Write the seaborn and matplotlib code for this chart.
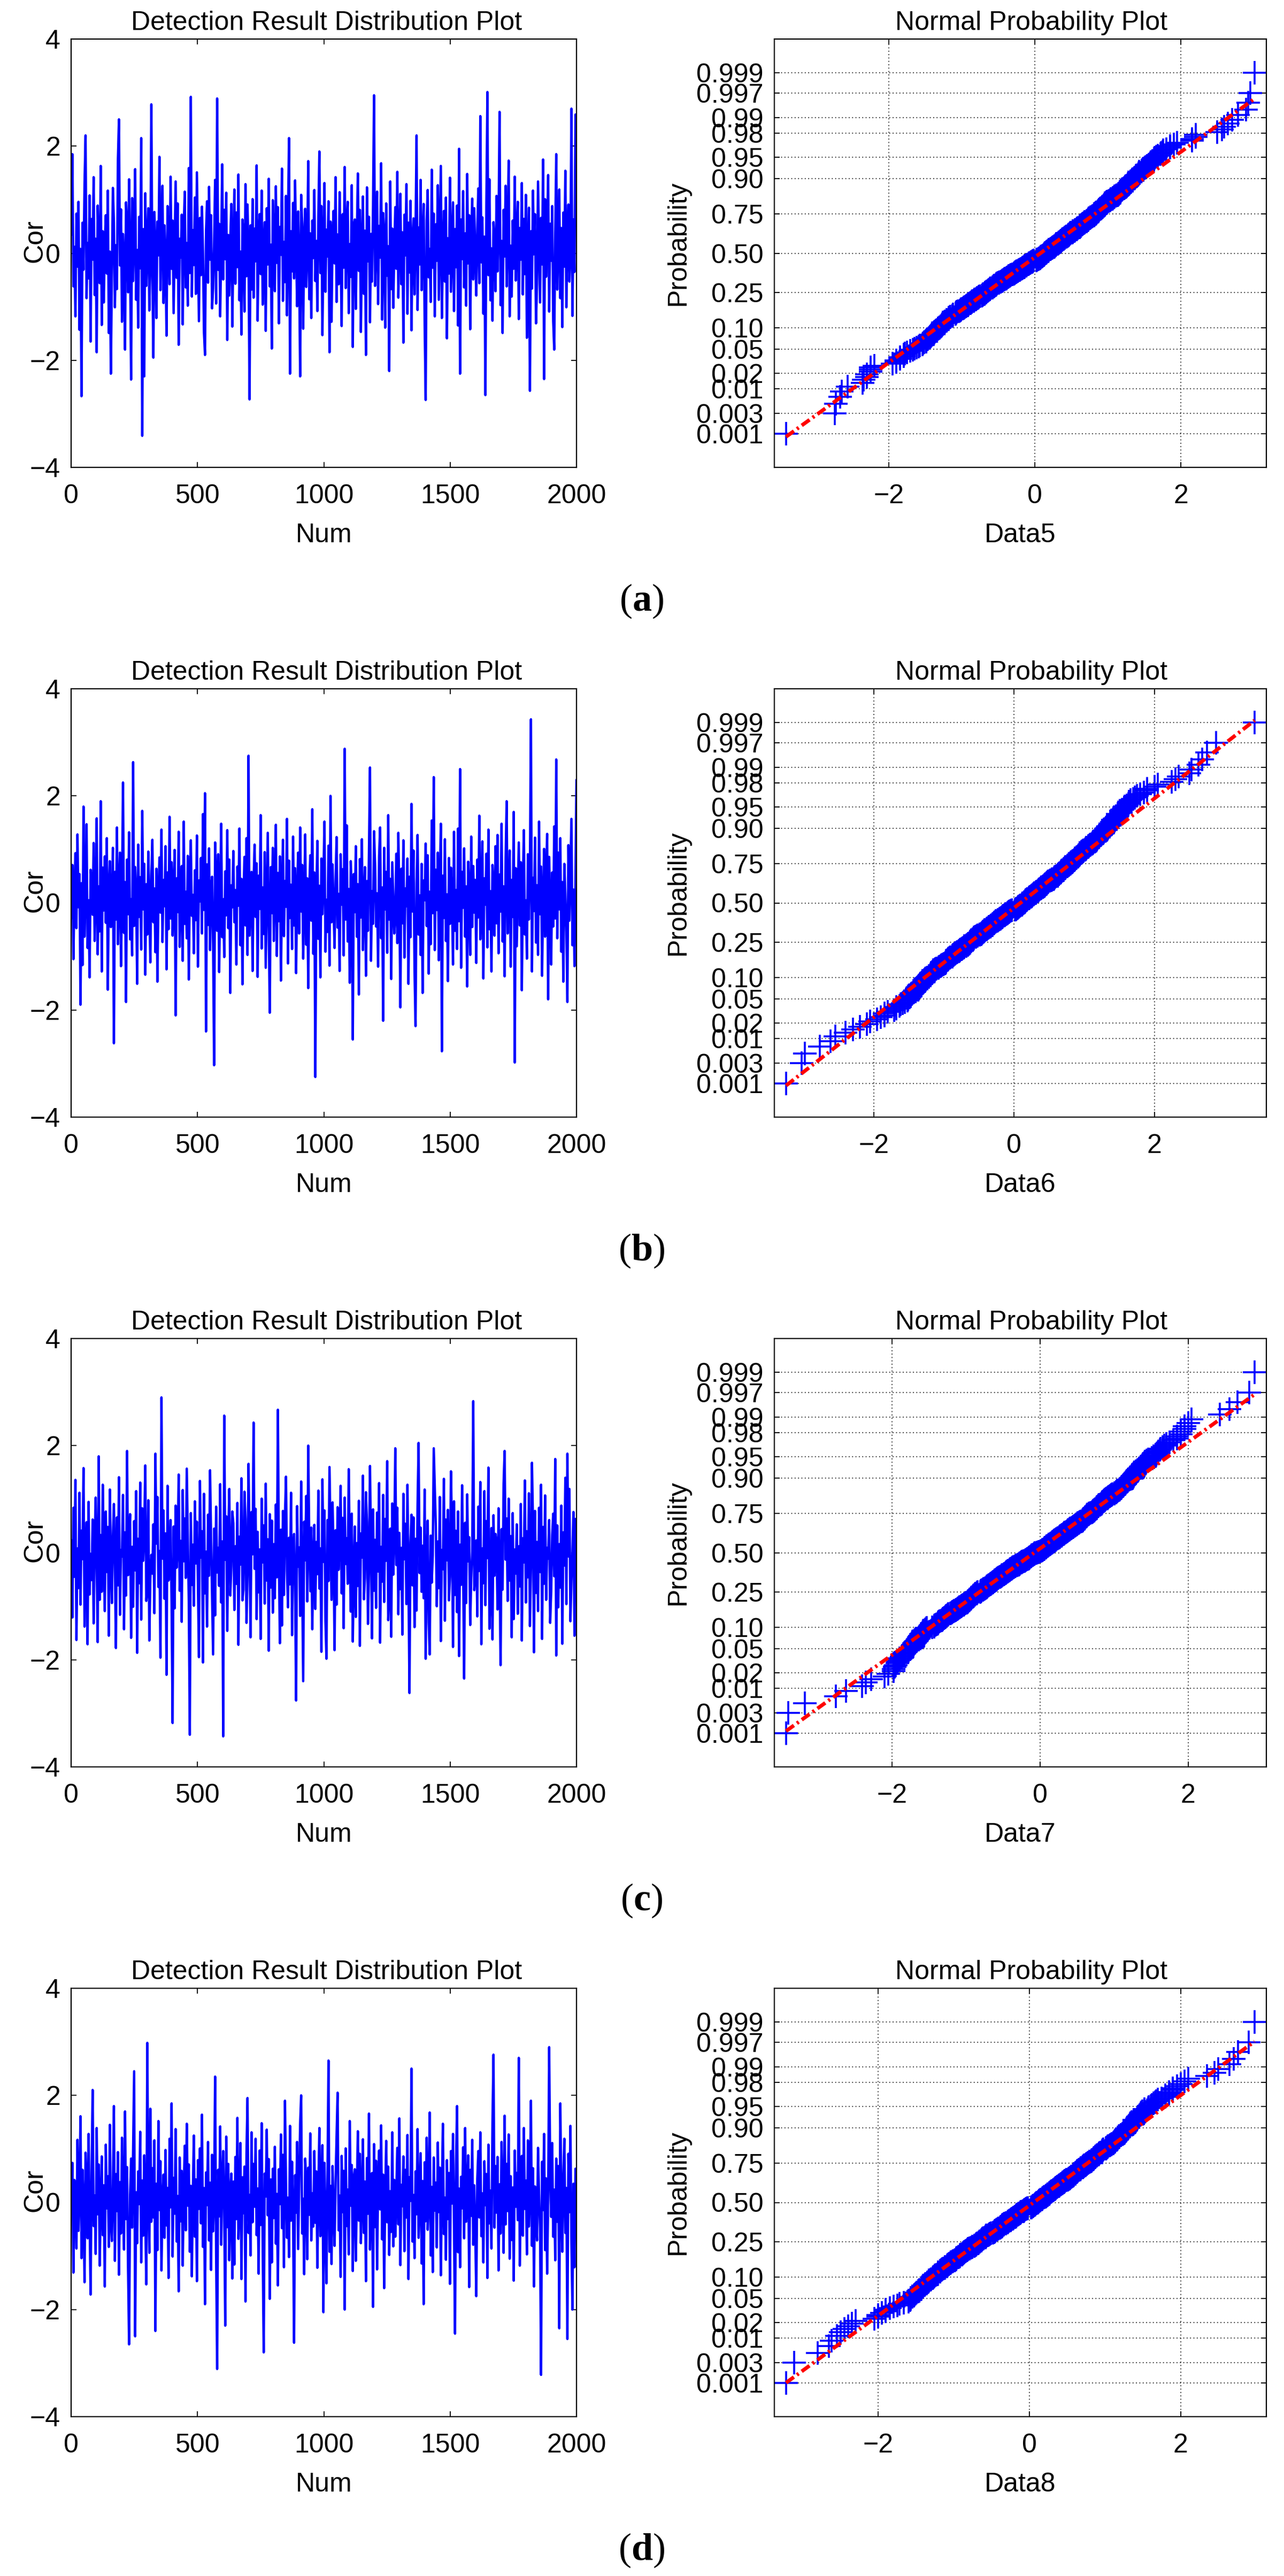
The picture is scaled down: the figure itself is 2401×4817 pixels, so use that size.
import numpy as np
import pandas as pd
import matplotlib
matplotlib.use("Agg")
import matplotlib.pyplot as plt
import seaborn as sns
from statistics import NormalDist

# Cor values of the four detection runs (Data5..Data8), read off the
# traces at every 4th sample of the 2000, in hundredths.
cor_a = [
    35, 185, -62, 12, -118, 74, -25, 96, -143, 8, -267, 57, -31, 131, 220, -84, 19, -47, 108, -165,
    64, -12, 142, -78, 27, -185, 89, -5, -56, 163, -134, 41, -92, 18, 71, -38, 117, -149, 3, -225,
    -44, 122, 58, -101, 15, -67, 176, 250, -23, 82, -128, 36, -9, -180, 95, 47, -73, 138, -16, -236,
    103, -52, 29, 157, -87, 6, -139, 68, -28, 215, -341, 45, -230, 112, -61, 21, 84, -107, -14, 278,
    -36, -195, 77, 13, -121, 59, -4, 180, -69, 33, 126, -93, 52, -17, -154, 88, 24, -58, 143, -29,
    61, -112, 9, 134, -46, 93, -171, 27, -8, 72, -133, 48, 115, -64, 19, -98, 159, -37, 292, -81,
    43, -22, 104, -76, 151, 11, -127, 66, -41, 87, 2, -148, -190, 39, 97, -55, 124, -12, 71, -103,
    -66, 18, 137, -94, 289, -31, 55, -118, 8, 166, -49, 81, -11, 113, -162, 34, -79, 26, 92, -137,
    14, 119, -57, 76, -26, 147, -88, 3, -152, 63, 38, -109, 129, -43, 91, -7, -273, 52, -68, 101,
    -83, 46, -15, 164, -126, 29, 73, -39, 117, -96, 7, 58, -145, 84, -21, 139, -62, 16, -178, 99,
    32, -71, 125, -18, 86, -131, 49, -3, 158, -89, 21, -54, 107, -116, 67, 215, -225, 41, -34, 94,
    -47, 136, 12, -99, 78, -24, -230, 109, 55, -141, 28, 83, -63, 5, 172, -86, 37, -121, 61, -9,
    118, -52, 23, -108, 69, 190, -37, 88, -153, 14, 131, -72, 44, -6, 97, -185, 59, -128, 26, 79,
    -19, 142, -91, 35, -58, 114, 4, -136, 73, -27, 161, -65, 48, 96, -112, 17, -44, 127, -175, 52,
    63, -104, 27, 149, -33, 81, -147, 10, 106, -76, 42, -190, 123, -15, 68, -129, 36, -53, 87, 295,
    -61, 22, 115, -95, 51, -8, 168, -124, 75, 31, -139, 93, -42, 13, -220, 134, -67, 46, -102, 7,
    86, -29, 152, -83, 19, 111, -58, 39, -167, 72, -4, 129, -113, 57, -36, 98, -144, 24, 65, -77,
    33, 220, -106, 48, -21, 137, -69, 15, 92, -132, -274, 61, 118, -45, 8, -91, 156, -27, 74, -118,
    54, -14, 127, -87, 36, 163, -121, 2, 79, -53, 104, -159, 28, -38, 141, -72, 11, 95, -108, 45,
    -26, 89, -135, 195, -225, 63, -11, 116, -64, 37, -98, 148, -19, 71, -142, 25, 102, -49, 84, -3,
    -79, 43, 121, -56, 256, -17, 67, -113, 31, -265, 94, 301, -41, 138, -88, 9, -126, 58, 16, -71,
    107, -34, 52, 264, -97, 23, -149, 81, -6, 126, -62, 39, 173, -118, 14, -81, 61, -29, 143, -51,
    28, 96, -123, 47, -12, 131, -77, 64, -39, 109, -158, 19, 85, -257, 41, -66, 117, -2, 73, -131,
    -57, 134, 18, -92, 66, -21, 175, -235, 101, -44, 29, 146, -109, 55, -14, 88, -127, -180, 37, 185,
    -68, 12, 119, -84, 47, -138, 76, -25, 154, -101, 34, 91, -53, 6, 270, -117, 63, -35, 259, 82,
]
cor_b = [
    -28, 71, -105, 16, 93, -47, 128, -8, 54, -190, 37, -116, 180, -63, 22, 147, -84, 5, -139, 62,
    44, -22, 112, -71, 9, 158, -96, 31, -53, 190, -128, 66, -14, 87, -37, 121, -162, 19, 78, -45,
    -9, 103, -262, 58, -31, 141, -77, 26, 94, -118, 12, 225, -56, 39, -185, 81, -21, 132, -68, 7,
    -98, 263, -43, 67, 14, -151, 109, -26, 48, -87, 172, -12, 73, -134, 35, -59, 96, 1, -111, 52,
    118, -36, 27, -92, 64, -147, 11, 85, -18, 137, -73, 43, -6, 106, -124, 57, -49, 161, -29, 76,
    -61, 29, 99, -210, 46, -17, 133, -82, 8, 69, -108, 152, -39, 21, -66, 88, -143, 34, 117, -24,
    15, -94, 61, -32, 126, -119, 42, 3, 84, -57, 166, -13, 205, -240, 72, -41, 102, -88, 27, 49,
    -76, -303, 113, 36, -52, 91, -129, 18, 148, -64, 7, -101, 59, -23, 136, -47, 81, -168, 33, -8,
    97, -36, 24, -115, 68, -5, 139, -79, 45, -152, 11, 86, -42, 121, -97, 275, -61, 17, 58, -127,
    38, 109, -26, 74, -138, 51, -11, 164, -85, 29, -58, 95, -121, 2, 131, -46, -205, 67, -19, 103,
    -71, 23, 146, -99, 56, -34, 87, -145, 12, 118, -62, 41, -7, 157, -113, 79, -28, 34, -86, 124,
    -42, 65, -131, 19, 94, -57, 141, -16, 71, -104, 3, 128, -78, 46, -159, 25, 89, -33, 175, -95,
    57, -325, 14, 116, -67, 32, -139, 83, -21, 48, 152, -91, 6, -54, 107, -117, 200, -36, 72, -9,
    -84, 39, 123, -46, 17, -127, 91, -3, 63, -98, 288, -31, 145, -72, 26, -149, 78, 13, -255, 54,
    -17, 106, -63, 35, -171, 82, -27, 119, -88, 4, 67, -136, 41, -52, 96, 253, -108, 22, -39, 134,
    71, -44, 18, -119, 87, 141, -66, 29, -220, 103, -12, 58, -93, 164, -31, 45, -142, 76, 8, -57,
    -23, 92, -75, 131, 11, -195, 64, -38, 117, -102, 27, -6, 83, -151, 49, -64, 185, -16, 98, -125,
    -230, 36, 127, -59, 14, -97, 73, -168, 42, 5, 111, -43, 89, -132, 21, -77, 154, -19, 235, -88,
    62, -13, 94, -107, 37, 148, -277, 51, -28, 119, -71, 16, -146, 84, -39, 66, 3, -115, 133, -52,
    24, -86, 139, -34, 250, -121, 58, -9, 102, -63, 31, -156, 77, 18, -97, 124, -45, 69, -18, 43,
    -112, 81, -27, 163, -68, 9, 115, -141, 46, -3, 92, -83, 137, -49, 22, -128, 71, 35, -61, 106,
    -38, 127, -94, 53, -16, 148, -72, 31, -137, 84, 190, -57, 12, 98, -119, 43, -26, 170, -298, 65,
    -81, 17, 113, -42, 76, -163, 28, 136, -59, 5, -104, 91, -31, 62, 343, -128, 47, -15, 122, -74,
    33, -97, 152, -21, 68, -136, 7, 101, -63, 44, 129, -180, 86, -8, -115, 57, -44, 143, -29, 268,
    -66, 94, -12, 121, -91, 39, -147, 73, 16, -54, -185, 108, -33, 62, 157, -79, 25, -118, 48, 230,
]
cor_c = [
    23, -121, 84, -45, 136, -163, 8, -66, 112, -97, 41, -12, 158, -138, -29, 57, -171, 95, -78, -2,
    -51, 62, -132, 14, 103, -19, -167, 180, -88, 33, -73, 127, 0, -109, 77, -36, 48, -155, 118, -8,
    -94, 29, 91, -24, -178, 66, -61, 141, -116, 5, -7, 108, -143, 38, -80, 190, -42, 19, 72, -159,
    11, -101, 59, -33, 115, -187, 26, -57, 131, -125, 83, -15, 44, 163, -90, -70, 98, -164, -48, -4,
    -39, 53, -113, 185, 17, 104, -64, 3, -196, 290, -11, 79, -86, 36, -228, 125, -52, -27, 61, -95,
    -318, 49, -104, 88, -28, 7, 146, -71, 22, -129, 117, -16, 64, -47, 157, 31, -92, -340, 74, -60,
    15, -99, 96, -20, 58, -55, -195, 134, -9, 40, -205, 110, -76, 2, -138, 71, -43, 154, 27, -84,
    -190, 45, -117, 86, -37, 9, -62, 128, -93, 21, -343, 256, -13, 68, -146, 34, 119, -80, -25, 77,
    55, -107, 12, -58, 93, -172, 30, -22, 139, -89, -69, 114, 63, -131, -41, 166, 18, -158, 76, -3,
    243, -30, 82, -124, 39, -74, 6, -161, 101, -18, 51, -95, 129, -52, 25, -183, 72, -65, 60, -112,
    16, -85, 90, -46, 267, -11, -169, 43, -136, 78, -79, 67, 142, -34, -102, 28, -59, 112, -154, 4,
    35, -63, -276, 87, -26, 10, -118, 133, -49, -240, 58, -14, 106, -91, 200, 22, -72, 47, -143, -8,
    52, -105, 20, -40, 116, -67, 8, -185, 137, -17, 79, -128, -198, 61, -53, 160, 33, -88, 94, -2,
    -182, 42, -97, 85, -32, 14, 125, -76, 65, -141, 103, -21, 27, -58, 156, 3, -110, 73, -166, -44,
    49, -120, 18, -62, 97, -174, 36, -9, 144, -87, -47, 113, 57, -133, -28, 162, 6, -160, 81, -71,
    24, -103, 75, -35, 130, -168, 11, -54, 108, -92, 63, -15, 171, -126, -77, 45, -157, 92, -41, 30,
    195, -23, 84, -115, 37, -68, 9, -153, 110, -12, 54, -96, 127, -50, -262, 19, 71, -61, 66, -139,
    26, -108, 89, 205, -38, 47, -73, 13, -85, 118, -198, -19, 60, -130, -190, 32, -56, -5, 195, 124,
    50, -100, 21, -66, 104, -165, 5, -31, 138, -127, 62, -14, 80, -89, -45, 152, 38, -176, 96, -79,
    41, -111, 77, -193, 15, -60, 126, -27, -235, 56, -94, 109, -16, 29, -135, -48, 2, 283, -70, -37,
    23, -119, 86, -34, 132, -171, 8, -57, 115, -98, 59, -10, 159, -142, -81, 46, -162, 70, -43, 35,
    17, -106, 83, -25, -210, 44, -69, 129, 190, -13, 64, -90, 101, -52, 31, -158, 74, -124, 6, -39,
    53, -114, 12, -63, 91, -164, 27, -18, 135, -93, 40, -46, 111, -137, -29, 168, 58, -186, 78, -75,
    20, -109, 84, -36, 127, -161, 48, -58, 107, -88, 9, -11, 61, -131, -72, 33, 73, -44, 175, -192,
    51, -102, 16, -65, 88, -170, 38, -24, 140, -96, 185, -7, 119, -128, -53, 3, 76, -155, 63, -40,
]
cor_d = [
    -18, 74, -131, 42, 9, -86, 117, -53, 26, 161, -104, 61, -7, -149, 93, 35, -67, 128, -29, -172,
    57, 210, -44, 13, -96, 139, -22, 71, -118, 4, 86, -61, 32, -157, 108, -11, 49, -83, 145, -38,
    -72, 24, 180, -109, 53, -16, 94, -135, 38, -58, 121, 7, -88, 170, -31, 66, -124, -265, 15, 82,
    -47, 103, 245, -250, 19, -76, 58, -3, 132, -112, 41, -62, 88, -25, -153, 298, 11, -94, 175, -36,
    64, -28, 116, -240, 35, -89, 152, -14, 77, -127, 2, 52, -66, 98, -43, 27, -141, 119, -9, 185,
    -101, 46, -21, 137, -73, 12, -166, 84, -35, 59, -118, 22, 106, -52, 147, -6, 71, -92, 31, -138,
    18, 125, -64, 43, -147, 79, -12, 101, -39, 164, -83, 27, -190, 56, -5, 113, -71, 37, -126, 89,
    -54, 8, 235, -97, -311, 61, -26, 142, -79, 33, 96, -15, -230, 123, -46, 72, -108, 19, 54, -142,
    39, -116, 85, -31, 158, -68, 4, 111, -143, 47, -20, 67, -185, 92, 195, -57, 14, -99, 131, -37,
    72, -8, 119, -61, 26, -133, 97, -42, 148, -85, -280, 54, 11, 136, -24, 81, -180, 43, -112, 63,
    -29, 104, -77, 16, -155, 62, -3, 127, -48, 89, -121, 190, 35, -66, 9, -102, 143, -34, 76, -17,
    -262, 51, -19, 113, -87, 28, 146, 200, -58, 7, -134, 82, 40, -106, 65, -23, 129, -71, 17, -45,
    96, -38, 58, -122, 23, 139, -63, 5, 107, -205, 74, -27, -151, 44, 265, -92, 31, -115, 68, -11,
    -81, 36, 124, 205, -52, 13, -139, 87, -18, 59, -200, 101, -44, 24, -97, 152, -6, 70, -128, 45,
    62, -109, 17, 133, -34, 91, -76, 4, 118, -57, 39, -147, 83, -21, 166, -88, 26, 55, -195, 109,
    -46, 78, -125, 30, 97, -13, 144, -69, 52, -160, 8, 115, -37, 67, -98, 21, -55, 131, -82, 42,
    -64, 19, 102, -41, 157, -117, 33, -7, 86, -91, 61, -28, 126, -143, 47, 3, 250, -73, 14, -104,
    58, -22, 137, -66, 11, 92, -114, 40, -190, 75, -35, 121, -51, 6, 168, -99, 29, -130, 84, -15,
    37, -84, 112, -18, 65, -136, 23, 147, -59, 9, -107, 79, -31, 55, -152, 96, -2, 128, -43, -245,
    71, 180, -93, 26, -121, 48, -11, 103, -67, 139, -36, 14, 88, -158, 61, -25, 117, -79, 32, -54,
    -175, 44, 96, -28, 131, -63, 17, -112, 77, -5, 53, -141, 108, -39, 22, -86, 149, 276, -47, 68,
    -19, 85, -127, 34, -58, 113, 6, -94, 162, -41, 72, -16, 127, -105, 49, -70, 28, -146, 97, -8,
    55, -33, 270, -118, 21, 87, -62, 139, -12, 41, -97, 116, -45, 8, 190, -81, 64, -157, 30, -24,
    -71, 102, 17, -48, -322, 76, -14, 128, -89, 45, -133, 3, 290, 59, -27, 111, -64, 24, -108, 82,
    -36, 68, -235, 185, 12, -92, 46, 119, -57, 27, -255, 91, -18, 143, -76, -200, 35, -121, 63, -4,
]

series = [cor_a, cor_b, cor_c, cor_d]
data_names = ["Data5", "Data6", "Data7", "Data8"]
panel_tags = ["a", "b", "c", "d"]

num_ticks = [0, 500, 1000, 1500, 2000]
cor_ticks = [-4, -2, 0, 2, 4]
data_ticks = [-2, 0, 2]
prob_ticks = [0.001, 0.003, 0.01, 0.02, 0.05, 0.10, 0.25, 0.50,
              0.75, 0.90, 0.95, 0.98, 0.99, 0.997, 0.999]
prob_labels = ["0.001", "0.003", "0.01", "0.02", "0.05", "0.10", "0.25", "0.50",
               "0.75", "0.90", "0.95", "0.98", "0.99", "0.997", "0.999"]

sns.set_style("ticks")
plt.rcParams.update({
    "font.family": ["Liberation Sans", "DejaVu Sans"],
    "mathtext.fontset": "custom",
    "mathtext.bf": "Liberation Serif:bold",
    "mathtext.rm": "Liberation Serif",
    "axes.edgecolor": "black",
    "axes.linewidth": 1.6,
    "text.color": "black",
    "axes.labelcolor": "black",
    "xtick.color": "black",
    "ytick.color": "black",
})

W, H = 2401, 4817
FS = 36
fig = plt.figure(figsize=(W / 100, H / 100), dpi=100)
nd = NormalDist()


def style_axes(ax):
    ax.tick_params(axis="both", direction="in", length=7, width=1.3,
                   labelsize=FS, top=True, right=True)
    ax.tick_params(axis="x", pad=22)
    ax.tick_params(axis="y", pad=14.5)
    for sp in ax.spines.values():
        sp.set_visible(True)
        sp.set_color("black")
        sp.set_linewidth(1.6)


for r, (vals, name, tag) in enumerate(zip(series, data_names, panel_tags)):
    v = np.array(vals) / 100.0
    n = len(v)
    bottom = 1 - (874 + 1215 * r) / H
    hgt = 801 / H
    ax1 = fig.add_axes([133 / W, bottom, 945 / W, hgt])
    ax2 = fig.add_axes([1448 / W, bottom, 920 / W, hgt])

    # detection result trace
    df = pd.DataFrame({"Num": np.linspace(1, 2000, n), "Cor": v})
    sns.lineplot(data=df, x="Num", y="Cor", ax=ax1, color="blue",
                 linewidth=3.2, estimator=None, sort=False)
    ax1.set_xlim(0, 2000)
    ax1.set_ylim(-4, 4)
    ax1.set_xticks(num_ticks)
    ax1.set_yticks(cor_ticks)
    ax1.set_title("Detection Result Distribution Plot", fontsize=FS, pad=12, x=0.505)
    ax1.set_xlabel("Num", fontsize=FS)
    ax1.set_ylabel("Cor", fontsize=FS)
    ax1.xaxis.set_label_coords(0.5, -0.13)
    ax1.yaxis.set_label_coords(-0.047, 0.529)
    style_axes(ax1)

    # normal probability plot (normplot style)
    srt = np.sort(v)
    z = np.array([nd.inv_cdf((i + 0.5) / n) for i in range(n)])
    q1, q3 = np.percentile(v, [25, 75])
    slope = 2 * nd.inv_cdf(0.75) / (q3 - q1)
    mid = (q1 + q3) / 2
    ends = np.array([srt[0], srt[-1]])
    fit = pd.DataFrame({"x": ends, "z": (ends - mid) * slope})

    sns.scatterplot(x=srt, y=z, ax=ax2, marker="+", s=1000, color="blue",
                    linewidth=2.6, zorder=2)
    sns.lineplot(data=fit, x="x", y="z", ax=ax2, color="red", linewidth=5,
                 linestyle=(0, (2.6, 1.0, 0.6, 1.0)), zorder=3)
    span = srt[-1] - srt[0]
    ax2.set_xlim(srt[0] - 0.025 * span, srt[-1] + 0.025 * span)
    ax2.set_ylim(-3.67, 3.67)
    ax2.set_xticks(data_ticks)
    ax2.set_yticks([nd.inv_cdf(p) for p in prob_ticks])
    ax2.set_yticklabels(prob_labels)
    ax2.grid(True, color="0.15", linestyle=(0, (1, 2.5)), linewidth=1.3)
    ax2.set_title("Normal Probability Plot", fontsize=FS, pad=12, x=0.522)
    ax2.set_xlabel(name, fontsize=FS)
    ax2.set_ylabel("Probability", fontsize=FS)
    ax2.xaxis.set_label_coords(0.5, -0.13)
    ax2.yaxis.set_label_coords(-0.1707, 0.524)
    style_axes(ax2)

    fig.text(1200 / W, 1 - (1142 + 1215 * r) / H, "($\\mathbf{%s}$)" % tag,
             fontsize=52, family="Liberation Serif", ha="center", va="baseline")

fig.savefig("out.png", dpi=100)
